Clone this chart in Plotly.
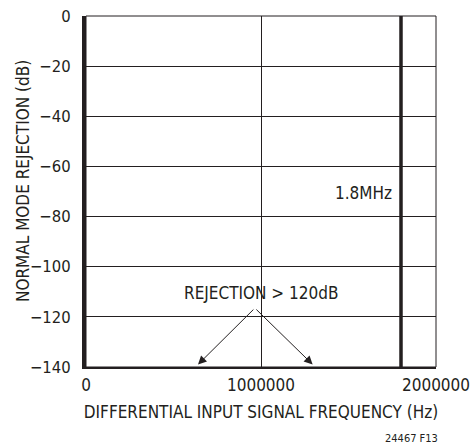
import plotly.graph_objects as go

# ---- data ----
x_range = [0, 2000000]
y_range = [-140, 0]
x_tick_vals = [0, 1000000, 2000000]
x_tick_text = ["0", "1000000", "2000000"]
y_tick_vals = [0, -20, -40, -60, -80, -100, -120, -140]
cutoff_freq = [1800000, 1800000]
cutoff_db = [0, -140]
cutoff_label = "1.8MHz"
cutoff_label_pos = [1760000, -70.5]
rejection_label = "REJECTION > 120dB"
rejection_label_pos = [1000000, -110.5]
arrow_tail = [965000, -116.5]
arrow_heads_x = [640000, 1295000]
arrow_heads_y = [-139, -139]

FONT = "DejaVu Sans Condensed, Liberation Sans Narrow, Roboto"
INK = "#231f20"

W, H = 471, 448
L, T, R, B = 86, 16, 35, 81
PW, PH = W - L - R, H - T - B

fig = go.Figure()
fig.add_trace(go.Scatter(x=cutoff_freq, y=cutoff_db, mode="lines",
                         line=dict(color=INK, width=3.5), showlegend=False,
                         hoverinfo="skip"))

fig.add_annotation(x=cutoff_label_pos[0], y=cutoff_label_pos[1], text=cutoff_label,
                   showarrow=False, xanchor="right", yanchor="middle",
                   font=dict(family=FONT, size=17, color=INK))
fig.add_annotation(x=rejection_label_pos[0], y=rejection_label_pos[1], text=rejection_label,
                   showarrow=False, xanchor="center", yanchor="middle",
                   font=dict(family=FONT, size=17, color=INK))
for hx, hy in zip(arrow_heads_x, arrow_heads_y):
    fig.add_annotation(x=hx, y=hy, ax=arrow_tail[0], ay=arrow_tail[1],
                       xref="x", yref="y", axref="x", ayref="y", text="",
                       showarrow=True, arrowhead=2, arrowsize=1.7, arrowwidth=1,
                       arrowcolor=INK)

# y-axis title
fig.add_annotation(xref="paper", yref="paper", text="NORMAL MODE REJECTION (dB)",
                   x=(23 - L) / PW, y=1 - (181 - T) / PH, textangle=-90,
                   xanchor="center", yanchor="middle", showarrow=False,
                   font=dict(family=FONT, size=17, color=INK))
# footer
fig.add_annotation(xref="paper", yref="paper", text="24467 F13",
                   x=(411 - L) / PW, y=-(438 - (T + PH)) / PH,
                   xanchor="center", yanchor="middle",
                   showarrow=False, font=dict(family=FONT, size=11, color=INK))

fig.update_layout(
    width=W, height=H,
    margin=dict(l=L, r=R, t=T, b=B, autoexpand=False),
    paper_bgcolor="white", plot_bgcolor="white",
    font=dict(family=FONT, size=17, color=INK),
)

fig.update_xaxes(range=x_range, tickvals=x_tick_vals, ticktext=x_tick_text,
                 showgrid=True, gridcolor=INK, gridwidth=1,
                 showline=True, linecolor=INK, linewidth=2,
                 zeroline=False, ticks="", ticklabelstandoff=2, automargin=False,
                 title=dict(text="DIFFERENTIAL INPUT SIGNAL FREQUENCY (Hz)",
                            font=dict(family=FONT, size=17, color=INK), standoff=12))
fig.update_yaxes(range=y_range, tickvals=y_tick_vals, tickfont=dict(size=16.5),
                 showgrid=True, gridcolor=INK, gridwidth=1,
                 showline=True, linecolor=INK, linewidth=4,
                 zeroline=False, ticks="", ticklabelstandoff=8, automargin=False)

# top and right frame lines (plot border)
fig.add_shape(type="rect", xref="paper", yref="paper", x0=0, y0=0, x1=1, y1=1,
              line=dict(color=INK, width=1), layer="above")

fig.write_html("out.html", config={"displayModeBar": False},
               post_script="document.body.style.margin='0';document.body.style.overflow='hidden';")
